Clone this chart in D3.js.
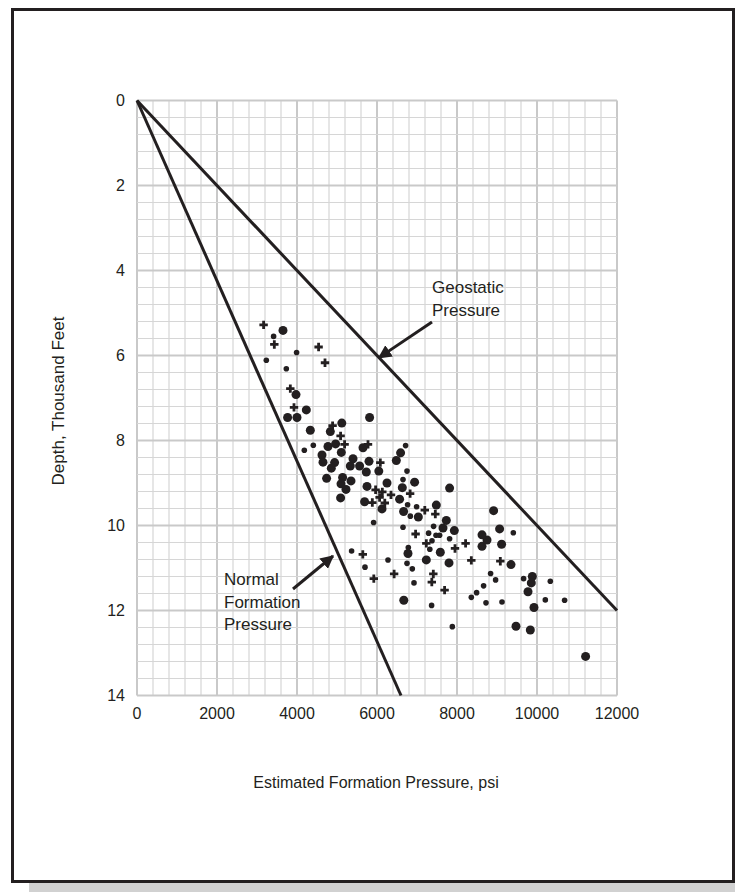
<!DOCTYPE html>
<html>
<head>
<meta charset="utf-8">
<script src="https://cdn.jsdelivr.net/npm/d3@7"></script>
<style>
  body { margin: 0; background: #fff; }
  svg { display: block; font-family: "Liberation Sans", Arial, sans-serif; }
</style>
</head>
<body>
<svg id="chart" width="735" height="892"></svg>
<script>
// Pressure (psi) and depth (thousand ft), one array pair per marker type
const largeP = [3650, 3975, 4233, 3765, 4000, 5120, 5815, 4333, 4833, 4775, 4965, 5108, 4625, 4650, 4940, 4858,
  5400, 5333, 5565, 5800, 5733, 4740, 5140, 5350, 5100, 5225, 5750, 5090, 5690, 5650, 6590, 6483, 6045, 6250,
  6940, 6633, 7815, 6565, 7483, 6125, 6665, 7033, 7733, 7650, 7933, 6775, 7583, 7233, 7800, 6670, 8625, 8750,
  8625, 9115, 9350, 9475, 9883, 9858, 9775, 9925, 9833, 11215, 8915, 9065];
const largeD = [5.41, 6.92, 7.28, 7.46, 7.46, 7.59, 7.46, 7.76, 7.79, 8.14, 8.08, 8.28, 8.34, 8.51, 8.52, 8.65,
  8.43, 8.60, 8.60, 8.49, 8.74, 8.89, 8.87, 8.95, 9.02, 9.15, 9.08, 9.35, 9.44, 8.17, 8.29, 8.47, 8.72, 9.00,
  8.98, 9.11, 9.12, 9.38, 9.52, 9.61, 9.67, 9.80, 9.88, 10.06, 10.12, 10.66, 10.63, 10.81, 10.88, 11.76, 10.49, 10.34,
  10.22, 10.44, 10.92, 12.37, 11.20, 11.35, 11.56, 11.93, 12.46, 13.08, 9.65, 10.08];

const smallP = [3415, 3990, 3233, 3733, 4408, 4183, 6715, 6750, 6650, 6765, 6990, 6833, 5915, 6650, 7415, 7290,
  7475, 7565, 7375, 7815, 6783, 7320, 5365, 6275, 6750, 6883, 5700, 6925, 8490, 8358, 7365, 7883, 8665, 8725,
  8840, 8965, 9125, 9665, 10208, 10333, 10690, 9408];
const smallD = [5.55, 5.93, 6.11, 6.31, 8.11, 8.23, 8.12, 8.72, 8.92, 9.51, 9.56, 9.78, 9.93, 10.04, 10.02, 10.18,
  10.23, 10.23, 10.36, 10.31, 10.52, 10.56, 10.60, 10.81, 10.89, 11.02, 10.98, 11.35, 11.58, 11.69, 11.88, 12.38, 11.42, 11.82,
  11.13, 11.28, 11.80, 11.25, 11.75, 11.31, 11.76, 10.17];

const crossP = [3165, 3433, 4540, 4700, 3833, 3925, 4890, 5090, 5190, 5965, 6065, 5883, 5775, 6083, 6133, 6350,
  6828, 6195, 7195, 7458, 6965, 7233, 8215, 7950, 5645, 8358, 6428, 7408, 5920, 7370, 7690, 9083];
const crossD = [5.28, 5.74, 5.80, 6.17, 6.78, 7.22, 7.65, 7.89, 8.09, 9.16, 9.34, 9.46, 8.09, 8.52, 9.21, 9.28,
  9.25, 9.47, 9.64, 9.73, 10.20, 10.42, 10.42, 10.54, 10.68, 10.82, 11.14, 11.14, 11.25, 11.33, 11.52, 10.84];

// gradient lines as [pressure, depth] end points
const geostaticLine = [[0, 0], [12000, 12]];
const normalLine = [[0, 0], [6600, 14]];

const xTicks = [0, 2000, 4000, 6000, 8000, 10000, 12000];
const yTicks = [0, 2, 4, 6, 8, 10, 12, 14];

const ink = "#231f20";
const svg = d3.select("#chart");

// page frame with drop shadow
svg.append("rect").attr("x", 29).attr("y", 26).attr("width", 720).attr("height", 870).attr("fill", "#d1d1d1");
svg.append("rect").attr("x", 12.5).attr("y", 9.5).attr("width", 721).attr("height", 872)
  .attr("fill", "#fff").attr("stroke", ink).attr("stroke-width", 3);

const x = d3.scaleLinear().domain([0, 12000]).range([137, 617]);
const y = d3.scaleLinear().domain([0, 14]).range([100.5, 695.5]);

// grid
const grid = svg.append("g");
d3.range(0, 12001, 400).forEach(v => {
  const major = v % 2000 === 0;
  grid.append("line").attr("x1", x(v)).attr("x2", x(v)).attr("y1", y(0)).attr("y2", y(14))
    .attr("stroke", major ? "#c9c9c9" : "#d6d6d6").attr("stroke-width", major ? 2 : 1.2);
});
d3.range(0, 14.001, 0.4).forEach(v => {
  const major = Math.abs(v / 2 - Math.round(v / 2)) < 1e-6;
  grid.append("line").attr("y1", y(v)).attr("y2", y(v)).attr("x1", x(0)).attr("x2", x(12000))
    .attr("stroke", major ? "#c9c9c9" : "#d6d6d6").attr("stroke-width", major ? 2 : 1.2);
});

// tick labels
svg.append("g").selectAll("text").data(xTicks).enter().append("text")
  .attr("x", d => x(d)).attr("y", 719)
  .attr("text-anchor", "middle").attr("font-size", 16).attr("fill", ink)
  .text(d => d);
svg.append("g").selectAll("text").data(yTicks).enter().append("text")
  .attr("x", 125).attr("y", d => y(d)).attr("dy", "0.36em")
  .attr("text-anchor", "end").attr("font-size", 16).attr("fill", ink)
  .text(d => d);

// axis titles
svg.append("text").attr("x", 376).attr("y", 788).attr("text-anchor", "middle")
  .attr("font-size", 16).attr("fill", ink).text("Estimated Formation Pressure, psi");
svg.append("text").attr("transform", "translate(64,401) rotate(-90)").attr("text-anchor", "middle")
  .attr("font-size", 17).attr("fill", ink).text("Depth, Thousand Feet");

// gradient lines
const line = d3.line().x(d => x(d[0])).y(d => y(d[1]));
[geostaticLine, normalLine].forEach(l => {
  svg.append("path").attr("d", line(l)).attr("fill", "none")
    .attr("stroke", ink).attr("stroke-width", 3);
});

// data points
const pts = svg.append("g").attr("fill", ink);
largeP.forEach((p, i) => {
  pts.append("circle").attr("cx", x(p)).attr("cy", y(largeD[i])).attr("r", 4.5);
});
smallP.forEach((p, i) => {
  pts.append("circle").attr("cx", x(p)).attr("cy", y(smallD[i])).attr("r", 2.8);
});
crossP.forEach((p, i) => {
  const cx = x(p), cy = y(crossD[i]), s = 4.2;
  pts.append("path")
    .attr("d", `M${cx - s},${cy}H${cx + s}M${cx},${cy - s}V${cy + s}`)
    .attr("stroke", ink).attr("stroke-width", 2.8);
});

// annotations with arrows
svg.append("defs").append("marker")
  .attr("id", "head").attr("viewBox", "0 0 10 10").attr("refX", 9).attr("refY", 5)
  .attr("markerWidth", 4.5).attr("markerHeight", 4.5).attr("orient", "auto")
  .append("path").attr("d", "M0,0L10,5L0,10Z").attr("fill", ink);

function label(lines, lx, ly, from, to) {
  const t = svg.append("text").attr("font-size", 17).attr("fill", ink);
  lines.forEach((s, i) => t.append("tspan").attr("x", lx).attr("y", ly + i * 22.5).text(s));
  svg.append("line").attr("x1", from[0]).attr("y1", from[1]).attr("x2", to[0]).attr("y2", to[1])
    .attr("stroke", ink).attr("stroke-width", 3).attr("marker-end", "url(#head)");
}
label(["Geostatic", "Pressure"], 432, 293, [432, 322], [x(6050), y(6.05)]);
label(["Normal", "Formation", "Pressure"], 224, 585, [293, 589], [333, 556]);
</script>
</body>
</html>
